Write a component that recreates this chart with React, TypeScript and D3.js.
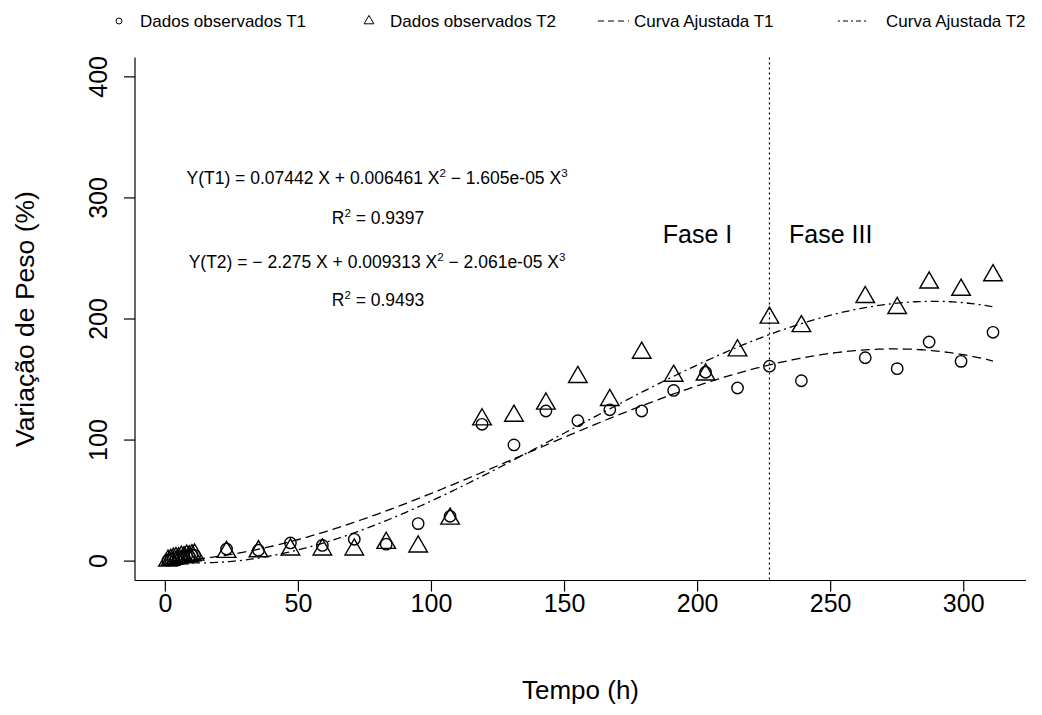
import React from 'react';
import * as d3 from 'd3';

// observation times (h)
const tempo = [1, 2, 3, 4, 5, 6, 7, 8, 9, 10, 11,
  23, 35, 47, 59, 71, 83, 95, 107, 119, 131, 143, 155, 167, 179, 191, 203, 215, 227, 239,
  263, 275, 287, 299, 311];

// observed weight change (%)
const pesoT1 = [0.8, 1.2, 2.1, 1.9, 3.0, 2.6, 3.8, 4.2, 3.9, 5.1, 4.6,
  10, 9, 15, 13, 18, 14, 31, 37, 113, 96, 124, 116, 125, 124, 141, 156, 143, 161, 149,
  168, 159, 181, 165, 189];
const pesoT2 = [0.3, 0.9, 1.8, 2.4, 2.2, 3.5, 3.1, 4.4, 4.0, 4.8, 5.3,
  7.5, 8, 9.5, 9.5, 9.5, 15, 12, 35, 117, 120, 130, 152, 133, 172, 153, 154, 174, 201, 194,
  218, 209, 230, 224, 236];

// fitted cubic (no intercept): b1 X + b2 X^2 + b3 X^3
const coefT1 = [0.07442, 0.006461, -1.605e-05];
const coefT2 = [-0.2275, 0.009313, -2.061e-05];

const xTicks = [0, 50, 100, 150, 200, 250, 300];
const yTicks = [0, 100, 200, 300, 400];
const faseLimite = 227;

const W = 1042, H = 715;
const plot = {left: 135, right: 1026, top: 57.5, bottom: 580.5};
const font = '"Liberation Sans", Arial, sans-serif';

const fit = (c: number[], x: number) => c[0] * x + c[1] * x * x + c[2] * x * x * x;

const tri = (cx: number, cy: number, r: number) =>
  `M${cx},${cy - 1.555 * r}L${cx + 1.3468 * r},${cy + 0.7776 * r}L${cx - 1.3468 * r},${cy + 0.7776 * r}Z`;

const App = () => {
  const xExt = d3.extent(tempo) as [number, number];
  const xPad = (xExt[1] - xExt[0]) * 0.04;
  const x = d3.scaleLinear()
    .domain([xExt[0] - xPad, xExt[1] + xPad])
    .range([plot.left, plot.right]);
  const y = d3.scaleLinear()
    .domain([-16, 416])
    .range([plot.bottom, plot.top]);

  const xs = d3.range(xExt[0], xExt[1] + 0.5, 1);
  const line = (c: number[]) => d3.line<number>()
    .x(d => x(d))
    .y(d => y(fit(c, d)))(xs) as string;

  const stroke = '#000';

  return (
    <svg width={W} height={H} style={{position: 'absolute', left: 0, top: 0, background: '#fff'}}
      fontFamily={font}>
      {/* legend */}
      <g fontSize={17} fill="#000">
        <circle cx={119} cy={21} r={3} fill="none" stroke={stroke} strokeWidth={1} />
        <text x={140} y={27}>Dados observados T1</text>
        <path d={tri(369, 21, 3.6)} fill="none" stroke={stroke} strokeWidth={1} />
        <text x={390} y={27}>Dados observados T2</text>
        <line x1={598} x2={629} y1={21} y2={21} stroke={stroke} strokeDasharray="6,4" />
        <text x={634} y={27}>Curva Ajustada T1</text>
        <line x1={838} x2={868} y1={21} y2={21} stroke={stroke} strokeDasharray="2,3,5,3" />
        <text x={886} y={27}>Curva Ajustada T2</text>
      </g>

      {/* axes, L box */}
      <g stroke={stroke} strokeWidth={1.2} fill="none">
        <line x1={plot.left} x2={plot.left} y1={plot.top} y2={plot.bottom} />
        <line x1={plot.left} x2={plot.right} y1={plot.bottom} y2={plot.bottom} />
        {xTicks.map(t => <line key={t} x1={x(t)} x2={x(t)} y1={plot.bottom} y2={plot.bottom + 11} />)}
        {yTicks.map(t => <line key={t} x1={plot.left} x2={plot.left - 11} y1={y(t)} y2={y(t)} />)}
      </g>
      <g fontSize={25} fill="#000">
        {xTicks.map(t => (
          <text key={t} x={x(t)} y={612} textAnchor="middle">{t}</text>
        ))}
        {yTicks.map(t => (
          <text key={t} transform={`translate(107,${y(t)}) rotate(-90)`} textAnchor="middle">{t}</text>
        ))}
      </g>
      <text x={(plot.left + plot.right) / 2} y={699} fontSize={26} textAnchor="middle">Tempo (h)</text>
      <text transform={`translate(34,${(plot.top + plot.bottom) / 2}) rotate(-90)`} fontSize={26.5}
        textAnchor="middle">Variação de Peso (%)</text>

      {/* phase divider */}
      <line x1={x(faseLimite)} x2={x(faseLimite)} y1={plot.top} y2={plot.bottom}
        stroke={stroke} strokeWidth={1.2} strokeDasharray="2,3" />
      <g fontSize={25} textAnchor="middle">
        <text x={x(200)} y={y(270) + 9}>Fase I</text>
        <text x={x(250)} y={y(270) + 9}>Fase III</text>
      </g>

      {/* equations */}
      <g fontSize={17.5} textAnchor="middle">
        <text x={377} y={184}>
          Y(T1) = 0.07442 X + 0.006461 X<tspan dy={-7} fontSize={11.5}>2</tspan>
          <tspan dy={7}> − 1.605e-05 X</tspan><tspan dy={-7} fontSize={11.5}>3</tspan>
        </text>
        <text x={378} y={224}>
          R<tspan dy={-7} fontSize={11.5}>2</tspan><tspan dy={7}> = 0.9397</tspan>
        </text>
        <text x={377} y={268}>
          Y(T2) = − 2.275 X + 0.009313 X<tspan dy={-7} fontSize={11.5}>2</tspan>
          <tspan dy={7}> − 2.061e-05 X</tspan><tspan dy={-7} fontSize={11.5}>3</tspan>
        </text>
        <text x={378} y={306}>
          R<tspan dy={-7} fontSize={11.5}>2</tspan><tspan dy={7}> = 0.9493</tspan>
        </text>
      </g>

      {/* fitted curves */}
      <path d={line(coefT1)} fill="none" stroke={stroke} strokeWidth={1.3} strokeDasharray="9,5" />
      <path d={line(coefT2)} fill="none" stroke={stroke} strokeWidth={1.3} strokeDasharray="2,4,8,4" />

      {/* observations */}
      <g fill="none" stroke={stroke} strokeWidth={1.4}>
        {tempo.map((t, i) => (
          <circle key={'c' + i} cx={x(t)} cy={y(pesoT1[i])} r={5.7} />
        ))}
        {tempo.map((t, i) => (
          <path key={'t' + i} d={tri(x(t), y(pesoT2[i]), 6.9)} />
        ))}
      </g>
    </svg>
  );
};

export default App;
